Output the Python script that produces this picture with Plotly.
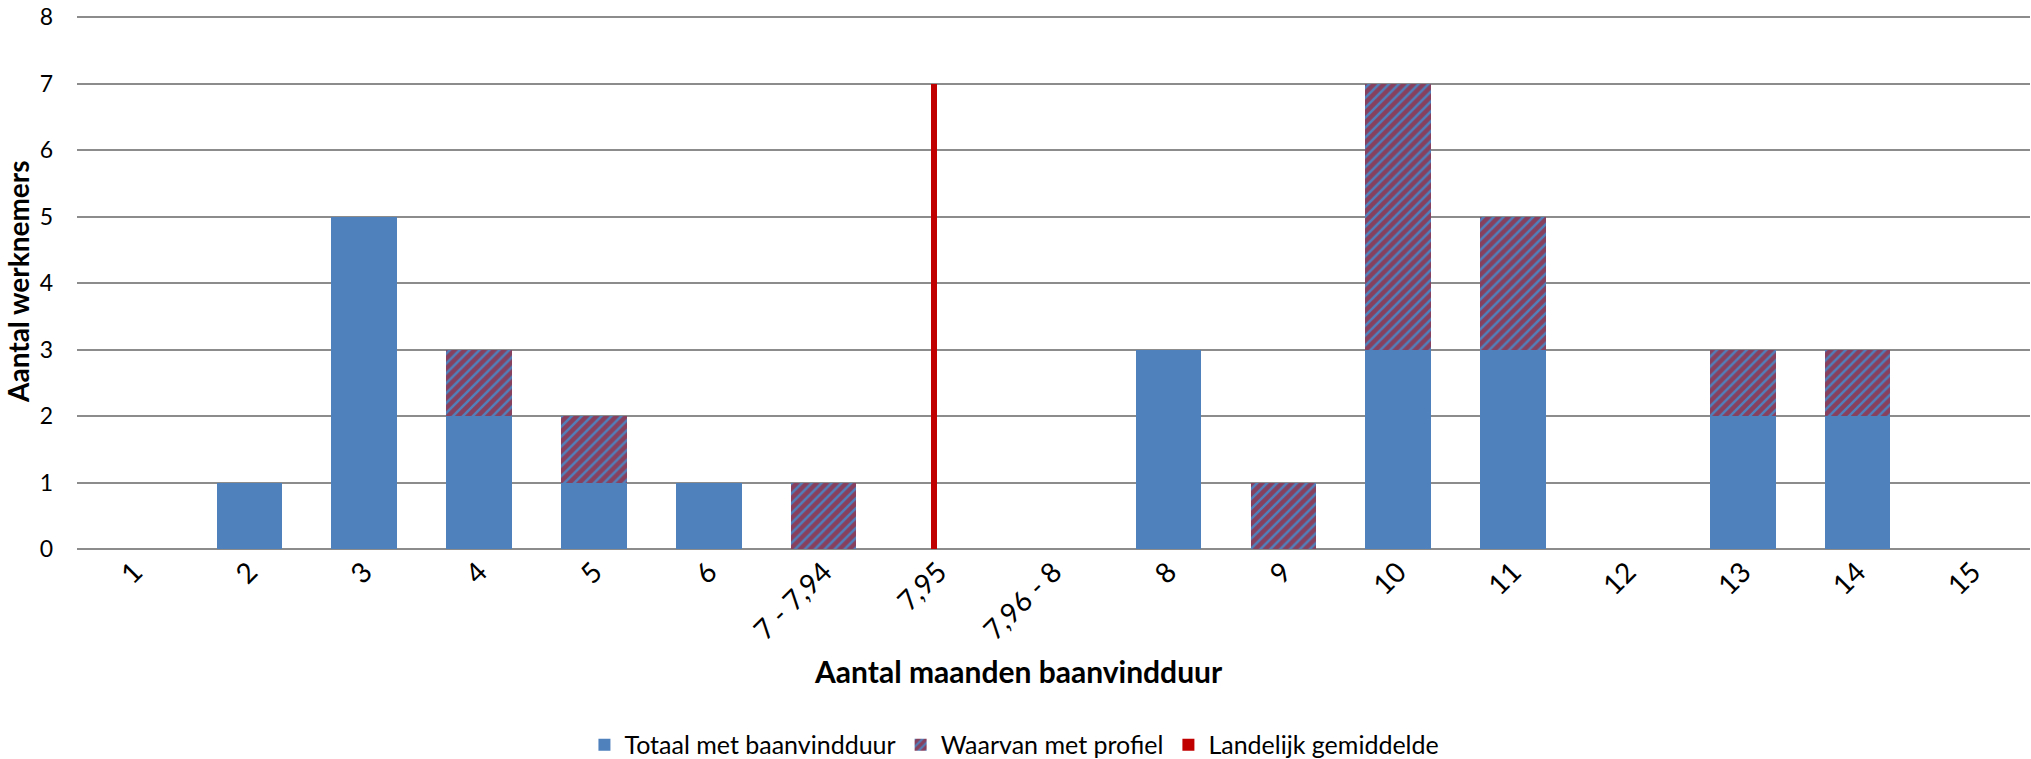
import plotly.graph_objects as go

categories = ["1", "2", "3", "4", "5", "6", "7 - 7,94", "7,95", "7,96 - 8",
              "8", "9", "10", "11", "12", "13", "14", "15"]
totaal = [0, 1, 5, 2, 1, 1, 0, 0, 0, 3, 0, 3, 3, 0, 2, 2, 0]
profiel = [0, 0, 0, 1, 1, 0, 1, 0, 0, 0, 1, 4, 2, 0, 1, 1, 0]
landelijk = [0, 0, 0, 0, 0, 0, 0, 7, 0, 0, 0, 0, 0, 0, 0, 0, 0]

BLUE = "#4F81BD"
RED = "#C00000"
FONT = "Lato"

fig = go.Figure()
fig.add_trace(go.Bar(
    x=categories, y=totaal, name="Totaal met baanvindduur",
    marker=dict(color=BLUE, line=dict(width=0)),
))
fig.add_trace(go.Bar(
    x=categories, y=profiel, name="Waarvan met profiel",
    marker=dict(color=BLUE, line=dict(width=0),
                pattern=dict(shape="/", fgcolor=RED, bgcolor=BLUE,
                             size=7, solidity=0.65, fillmode="overlay")),
))
fig.add_trace(go.Bar(
    x=categories, y=landelijk, name="Landelijk gemiddelde",
    width=[0.058] * len(categories),
    offset=[-0.07] * len(categories),
    marker=dict(color=RED, line=dict(width=0)),
))

fig.update_layout(
    width=2031, height=759,
    barmode="stack", bargap=0.43,
    plot_bgcolor="white", paper_bgcolor="white",
    margin=dict(l=77, r=1, t=15, b=210, autoexpand=False),
    font=dict(family=FONT, size=25, color="#000000"),
    showlegend=True,
    legend=dict(orientation="h", x=0.48, xanchor="center", y=-0.367,
                yanchor="middle", font=dict(size=25), itemwidth=30,
                traceorder="normal"),
    xaxis=dict(tickangle=-45, showgrid=False, showline=False,
               tickfont=dict(size=28), ticks="", automargin=False),
    yaxis=dict(range=[0, 8.03], tickvals=[0, 1, 2, 3, 4, 5, 6, 7, 8],
               showgrid=True, gridcolor="#8C8C8C",
               gridwidth=2, zeroline=True, zerolinecolor="#8C8C8C",
               zerolinewidth=2, tickfont=dict(size=23), ticks="",
               ticklabelstandoff=23, automargin=False,
               ticklabeloverflow="allow"),
    annotations=[
        dict(text="<b>Aantal maanden baanvindduur</b>", x=0.482, y=-0.228,
             xref="paper", yref="paper", showarrow=False,
             font=dict(size=30), xanchor="center", yanchor="middle"),
        dict(text="<b>Aantal werknemers</b>", x=-0.0302, y=0.5,
             xref="paper", yref="paper", showarrow=False, textangle=-90,
             font=dict(size=28), xanchor="center", yanchor="middle"),
    ],
)

fig.write_html("out.html",
               config={"displayModeBar": False},
               post_script="document.body.style.margin='0';"
                           "document.body.style.overflow='hidden';")
